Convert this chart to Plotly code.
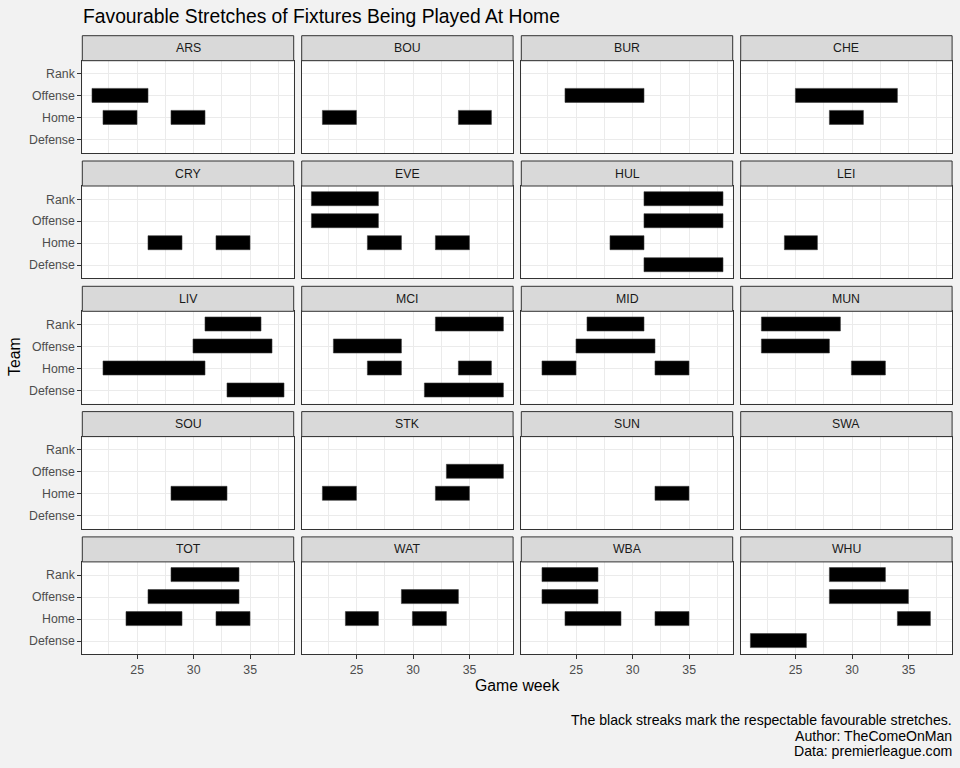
import plotly.graph_objects as go

# ---------------- data ----------------
teams = ["ARS", "BOU", "BUR", "CHE", "CRY", "EVE", "HUL", "LEI", "LIV", "MCI",
         "MID", "MUN", "SOU", "STK", "SUN", "SWA", "TOT", "WAT", "WBA", "WHU"]
metrics = ["Defense", "Home", "Offense", "Rank"]  # bottom -> top
x_ticks = [25, 30, 35]

seg_team = ["ARS", "ARS", "ARS",
            "BOU", "BOU",
            "BUR",
            "CHE", "CHE",
            "CRY", "CRY",
            "EVE", "EVE", "EVE", "EVE",
            "HUL", "HUL", "HUL", "HUL",
            "LEI",
            "LIV", "LIV", "LIV", "LIV",
            "MCI", "MCI", "MCI", "MCI", "MCI",
            "MID", "MID", "MID", "MID",
            "MUN", "MUN", "MUN",
            "SOU",
            "STK", "STK", "STK",
            "SUN",
            "TOT", "TOT", "TOT", "TOT",
            "WAT", "WAT", "WAT",
            "WBA", "WBA", "WBA", "WBA",
            "WHU", "WHU", "WHU", "WHU"]
seg_metric = ["Offense", "Home", "Home",
              "Home", "Home",
              "Offense",
              "Offense", "Home",
              "Home", "Home",
              "Rank", "Offense", "Home", "Home",
              "Rank", "Offense", "Home", "Defense",
              "Home",
              "Rank", "Offense", "Home", "Defense",
              "Rank", "Offense", "Home", "Home", "Defense",
              "Rank", "Offense", "Home", "Home",
              "Rank", "Offense", "Home",
              "Home",
              "Offense", "Home", "Home",
              "Home",
              "Rank", "Offense", "Home", "Home",
              "Offense", "Home", "Home",
              "Rank", "Offense", "Home", "Home",
              "Rank", "Offense", "Home", "Defense"]
seg_start = [21, 22, 28,
             22, 34,
             24,
             25, 28,
             26, 32,
             21, 21, 26, 32,
             31, 31, 28, 31,
             24,
             31, 30, 22, 33,
             32, 23, 26, 34, 31,
             26, 25, 22, 32,
             22, 22, 30,
             28,
             33, 22, 32,
             32,
             28, 26, 24, 32,
             29, 24, 30,
             22, 22, 24, 32,
             28, 28, 34, 21]
seg_end = [26, 25, 31,
           25, 37,
           31,
           34, 31,
           29, 35,
           27, 27, 29, 35,
           38, 38, 31, 38,
           27,
           36, 37, 31, 38,
           38, 29, 29, 37, 38,
           31, 32, 25, 35,
           29, 28, 33,
           33,
           38, 25, 35,
           35,
           34, 34, 29, 35,
           34, 27, 33,
           27, 27, 29, 35,
           33, 35, 37, 26]

# ---------------- layout geometry ----------------
W, H = 960, 768
col_left = [82.3, 301.7, 521.3, 740.7]
panel_w = 211.4
strip_top0 = 35.7
row_step = 125.3
strip_h = 25.0
panel_h = 92.3

FONT = "Liberation Sans, Arial, sans-serif"
GRID = "#EBEBEB"
DARK = "#333333"
TICK_SIZE = 12.3

fig = go.Figure()
layout = dict(
    width=W, height=H, autosize=False,
    margin=dict(l=0, r=0, t=0, b=0),
    paper_bgcolor="#F2F2F2", plot_bgcolor="white",
    showlegend=False, bargap=0,
    font=dict(family=FONT, color="#000000"),
)
shapes = []
annotations = []

for i, team in enumerate(teams):
    r, c = divmod(i, 4)
    n = i + 1
    xa = "x" if n == 1 else f"x{n}"
    ya = "y" if n == 1 else f"y{n}"
    x0 = col_left[c]
    x1 = x0 + panel_w
    st = strip_top0 + r * row_step
    pt = st + strip_h
    pb = pt + panel_h

    xs, ys, bs = [], [], []
    for t, m, s, e in zip(seg_team, seg_metric, seg_start, seg_end):
        if t == team:
            ys.append(m)
            bs.append(s)
            xs.append(e - s)
    fig.add_trace(go.Bar(
        x=xs, y=ys, base=bs, orientation="h", width=0.64,
        marker=dict(color="black", line=dict(color="#3a3a3a", width=0.6)),
        xaxis=xa, yaxis=ya, hoverinfo="skip",
    ))

    bottom = (r == 4)
    left = (c == 0)
    layout["xaxis" if n == 1 else f"xaxis{n}"] = dict(
        domain=[x0 / W, x1 / W], anchor=ya, range=[20.15, 38.85],
        tickvals=x_ticks, ticktext=[str(v) for v in x_ticks],
        showticklabels=bottom, ticks="outside" if bottom else "",
        ticklen=4, tickwidth=1, tickcolor=DARK,
        tickfont=dict(size=TICK_SIZE, color="#4D4D4D", family=FONT),
        showgrid=True, gridcolor=GRID, gridwidth=1.1,
        minor=dict(tickvals=[22.5, 27.5, 32.5, 37.5], showgrid=True,
                   gridcolor=GRID, gridwidth=0.55, ticks=""),
        showline=True, mirror=True, linecolor=DARK, linewidth=1,
        zeroline=False, fixedrange=True,
    )
    layout["yaxis" if n == 1 else f"yaxis{n}"] = dict(
        domain=[1 - pb / H, 1 - pt / H], anchor=xa,
        type="category", categoryorder="array", categoryarray=metrics,
        range=[-0.6, 3.6],
        tickvals=metrics, ticktext=metrics,
        showticklabels=left, ticks="outside" if left else "",
        ticklen=4, tickwidth=1, tickcolor=DARK,
        tickfont=dict(size=TICK_SIZE, color="#4D4D4D", family=FONT),
        showgrid=True, gridcolor=GRID, gridwidth=1.1,
        showline=True, mirror=True, linecolor=DARK, linewidth=1,
        zeroline=False, fixedrange=True,
    )
    shapes.append(dict(
        type="rect", xref="paper", yref="paper",
        x0=x0 / W, x1=x1 / W, y0=1 - pt / H, y1=1 - st / H,
        fillcolor="#D9D9D9", line=dict(color=DARK, width=1), layer="above",
    ))
    annotations.append(dict(
        text=team, xref="paper", yref="paper",
        x=(x0 + x1) / 2 / W, y=1 - (st + strip_h / 2) / H,
        xanchor="center", yanchor="middle", showarrow=False,
        font=dict(size=TICK_SIZE, color="#1A1A1A", family=FONT),
    ))

# titles
annotations.append(dict(
    text="Favourable Stretches of Fixtures Being Played At Home",
    xref="paper", yref="paper", x=80.5 / W, y=1 - 16 / H,
    xanchor="left", yanchor="middle", showarrow=False,
    font=dict(size=19.3, color="black", family=FONT),
))
annotations.append(dict(
    text="Game week", xref="paper", yref="paper", x=517 / W, y=1 - 685 / H,
    xanchor="center", yanchor="middle", showarrow=False,
    font=dict(size=15.8, color="black", family=FONT),
))
annotations.append(dict(
    text="Team", xref="paper", yref="paper", x=14 / W, y=1 - 357 / H,
    xanchor="center", yanchor="middle", showarrow=False, textangle=-90,
    font=dict(size=15.8, color="black", family=FONT),
))
caption = ["The black streaks mark the respectable favourable stretches.",
           "Author: TheComeOnMan", "Data: premierleague.com"]
for k, line in enumerate(caption):
    annotations.append(dict(
        text=line, xref="paper", yref="paper", x=953.5 / W,
        y=1 - (720 + 15.7 * k) / H,
        xanchor="right", yanchor="middle", showarrow=False,
        font=dict(size=14.1, color="black", family=FONT),
    ))

layout["shapes"] = shapes
layout["annotations"] = annotations
fig.update_layout(**layout)
fig.write_html("out.html")
